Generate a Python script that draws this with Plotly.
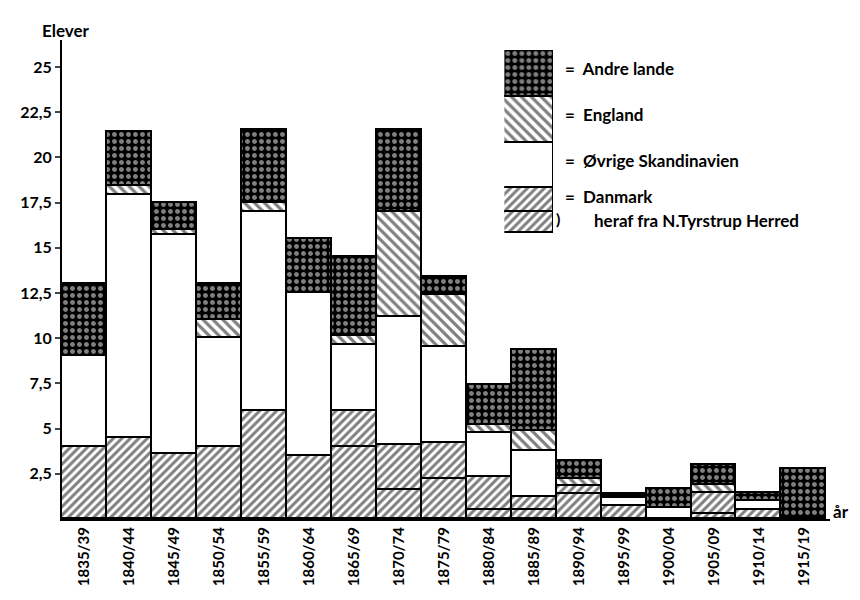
import plotly.graph_objects as go

# Perioder og elevtal
perioder = ['1835/39', '1840/44', '1845/49', '1850/54', '1855/59', '1860/64',
            '1865/69', '1870/74', '1875/79', '1880/84', '1885/89', '1890/94',
            '1895/99', '1900/04', '1905/09', '1910/14', '1915/19']

danmark = [4.0, 4.5, 3.6, 4.0, 6.0, 3.5, 6.0, 4.1, 4.2, 2.3, 1.2, 1.8, 0.7, 0.0, 1.45, 0.5, 0.0]
herred = [0.0, 0.0, 0.0, 0.0, 0.0, 0.0, 4.0, 1.6, 2.2, 0.5, 0.5, 1.4, 0.0, 0.0, 0.3, 0.0, 0.0]
oevrige = [5.0, 13.4, 12.1, 6.0, 11.0, 9.0, 3.6, 7.1, 5.3, 2.45, 2.55, 0.0, 0.45, 0.6, 0.0, 0.5, 0.0]
england = [0.0, 0.5, 0.3, 1.0, 0.5, 0.0, 0.5, 5.8, 2.9, 0.45, 1.1, 0.4, 0.0, 0.0, 0.45, 0.0, 0.0]
andre = [4.0, 3.0, 1.5, 2.0, 4.0, 3.0, 4.4, 4.5, 1.0, 2.2, 4.5, 1.0, 0.25, 1.05, 1.1, 0.45, 2.75]

y_ticks = [2.5, 5, 7.5, 10, 12.5, 15, 17.5, 20, 22.5, 25]
y_ticktext = ['2,5', '5', '7,5', '10', '12,5', '15', '17,5', '20', '22,5', '25']

FONT = 'Lato'
LINE = dict(color='black', width=1.8)

danmark_rest = [d - h for d, h in zip(danmark, herred)]

styles = {
    'herred': dict(shape='/', fgcolor='black', bgcolor='white', size=6, solidity=0.5),
    'danmark': dict(shape='/', fgcolor='black', bgcolor='white', size=6, solidity=0.5),
    'oevrige': dict(shape='', bgcolor='white'),
    'england': dict(shape='\\', fgcolor='black', bgcolor='white', size=7, solidity=0.45),
    'andre': dict(shape='.', fgcolor='white', bgcolor='black', size=7, solidity=0.4),
}

serier = [
    ('heraf fra N.Tyrstrup Herred', herred, 'herred'),
    ('Danmark', danmark_rest, 'danmark'),
    ('Øvrige Skandinavien', oevrige, 'oevrige'),
    ('England', england, 'england'),
    ('Andre lande', andre, 'andre'),
]

fig = go.Figure()

for navn, vals, key in serier:
    fig.add_trace(go.Bar(
        x=perioder, y=vals, name=navn,
        marker=dict(color='white', line=LINE, pattern=styles[key]),
        showlegend=False,
    ))

# Signaturforklaring som en lille stablet søjle
legend_keys = ['herred', 'danmark', 'oevrige', 'england', 'andre']
legend_h = [21, 24, 45, 46, 47]
for key, h in zip(legend_keys, legend_h):
    fig.add_trace(go.Bar(
        x=[0], y=[h], xaxis='x2', yaxis='y2', width=1,
        marker=dict(color='white', line=LINE, pattern=styles[key]),
        showlegend=False, hoverinfo='skip',
    ))

fig.update_layout(
    width=860, height=600,
    barmode='stack', bargap=0,
    plot_bgcolor='white', paper_bgcolor='white',
    margin=dict(l=50, r=38, t=32, b=89),
    font=dict(family=FONT, size=15, color='black', weight='bold'),
    xaxis=dict(
        range=[-0.5, 16.58], showline=True, linewidth=2, linecolor='black',
        showgrid=False, ticks='', tickangle=-90, tickfont=dict(size=15),
    ),
    yaxis=dict(
        range=[0, 26.5], showline=True, linewidth=2, linecolor='black',
        showgrid=False, zeroline=False, ticks='outside', ticklen=5, tickwidth=2,
        tickvals=y_ticks, ticktext=y_ticktext, tickfont=dict(size=16),
    ),
    xaxis2=dict(domain=[0.576, 0.640], range=[-0.5, 0.5], visible=False, anchor='y2'),
    yaxis2=dict(domain=[0.597, 0.979], range=[0, 183], visible=False, anchor='x2'),
)

legend_text = [
    ('=  Andre lande', 0.94),
    ('=  England', 0.845),
    ('=  Øvrige Skandinavien', 0.748),
    ('=  Danmark', 0.674),
]
for txt, yy in legend_text:
    fig.add_annotation(text=txt, x=0.652, y=yy, xref='paper', yref='paper',
                       xanchor='left', yanchor='middle', showarrow=False,
                       font=dict(size=17))
fig.add_annotation(text='heraf fra N.Tyrstrup Herred', x=0.69, y=0.623,
                   xref='paper', yref='paper', xanchor='left', yanchor='middle',
                   showarrow=False, font=dict(size=17))
fig.add_annotation(text=')', x=0.641, y=0.628, xref='paper', yref='paper',
                   xanchor='left', yanchor='middle', showarrow=False,
                   font=dict(size=16))

fig.add_annotation(text='Elever', x=0.005, y=1.046, xref='paper', yref='paper',
                   xanchor='center', showarrow=False, font=dict(size=17))
fig.add_annotation(text='år', x=1.0, y=0.0, xref='paper', yref='paper',
                   xanchor='left', yanchor='middle', xshift=1, yshift=8,
                   showarrow=False, font=dict(size=17))

fig.write_html('out.html')
